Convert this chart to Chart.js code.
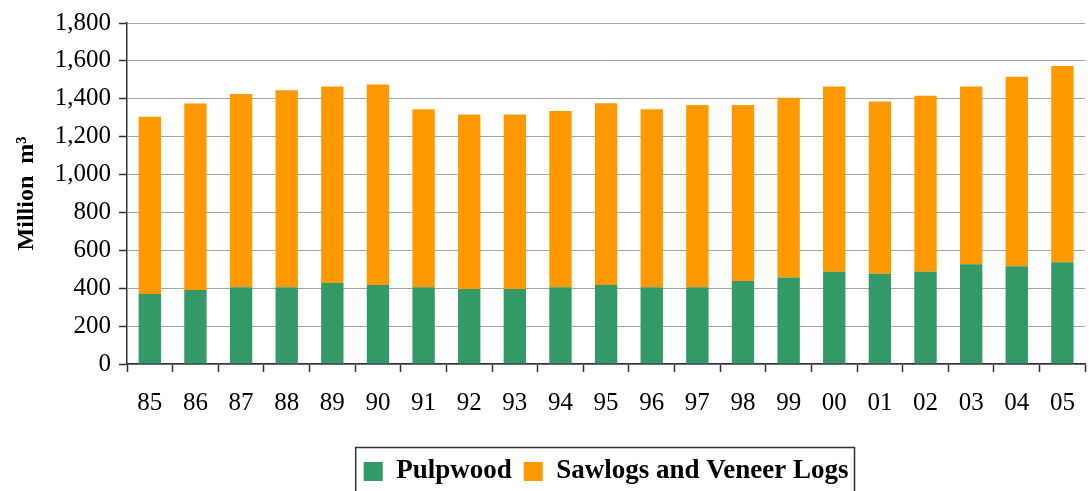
<!DOCTYPE html>
<html><head><meta charset="utf-8">
<script src="https://cdn.jsdelivr.net/npm/chart.js@4.4.1/dist/chart.umd.min.js"></script>
<style>html,body{margin:0;padding:0;background:#fff}#wrap{width:1091px;height:491px;position:relative}</style>
</head><body><div id="wrap"><canvas id="c"></canvas></div>
<script>
const years = ['85','86','87','88','89','90','91','92','93','94','95','96','97','98','99','00','01','02','03','04','05'];
const pulpwood = [370,390,405,405,428,417,405,396,396,405,417,405,405,438,457,487,476,487,527,516,537];
const sawlogs  = [935,985,1020,1040,1037,1058,940,921,921,931,959,940,962,929,949,978,909,929,938,1000,1036];
const seriesNames = ['Pulpwood','Sawlogs and Veneer Logs'];
const yMin = 0, yMax = 1800, yStep = 200;
const yTitle = 'Million  m\u00B3';

const FONT = "'Liberation Serif','Times New Roman',serif";
const GREEN = '#339966', ORANGE = '#FF9900', AXIS = '#333333', GRID = '#a6a6a6';
const PLOT_BOTTOM = 364, PAD_BOTTOM = 0;

const legendBox = {
  id: 'legendBox',
  afterUpdate(chart) {
    const lg = chart.legend, ca = chart.chartArea;
    if (!lg || !ca) return;
    const dx = ((ca.left + ca.right) - (lg.left + lg.right)) / 2;
    const dy = 4;
    lg.left += dx; lg.right += dx; lg.top += dy; lg.bottom += dy;
    (lg.legendHitBoxes || []).forEach(h => { h.left += dx; h.top += dy; });
  },
  afterDraw(chart) {
    const hb = chart.legend && chart.legend.legendHitBoxes;
    if (!hb || !hb.length) return;
    const ctx = chart.ctx;
    const left = hb[0].left - 8;
    const right = hb[hb.length-1].left + hb[hb.length-1].width + 6;
    const cy = hb[0].top + hb[0].height / 2;
    const top = cy - 24;
    const bottom = cy + 24;
    ctx.save();
    ctx.strokeStyle = AXIS; ctx.lineWidth = 1.5;
    ctx.strokeRect(left, top, right-left, bottom-top);
    ctx.restore();
  }
};

new Chart(document.getElementById('c'), {
  type: 'bar',
  data: {
    labels: years,
    datasets: [
      { label: seriesNames[0], data: pulpwood, backgroundColor: GREEN, borderWidth: 0 },
      { label: seriesNames[1], data: sawlogs, backgroundColor: ORANGE, borderWidth: 0 }
    ]
  },
  options: {
    responsive: true, maintainAspectRatio: false, animation: false,
    layout: { padding: { top: 8, right: 4, left: 12, bottom: PAD_BOTTOM } },
    datasets: { bar: { barPercentage: 0.49, categoryPercentage: 1.0 } },
    plugins: {
      tooltip: { enabled: false },
      legend: {
        position: 'bottom',
        labels: {
          color: '#000', font: { family: FONT, size: 27, weight: 'bold' },
          boxWidth: 19, boxHeight: 19, padding: 12
        }
      }
    },
    scales: {
      x: {
        stacked: true,
        afterFit(s) { s.height = s.chart.height - PLOT_BOTTOM - s.chart.legend.height - PAD_BOTTOM; },
        grid: { offset: true, drawOnChartArea: false, drawTicks: true, tickLength: 8, tickColor: AXIS, tickWidth: 1.5 },
        border: { color: AXIS, width: 1.5 },
        ticks: { color: '#000', font: { family: FONT, size: 25 }, padding: 16, maxRotation: 0, autoSkip: false }
      },
      y: {
        stacked: true, min: yMin, max: yMax,
        afterFit(s) { s.width = 115; },
        grid: { color: GRID, lineWidth: 1, drawTicks: true, tickLength: 8, tickColor: AXIS, tickWidth: 1.5 },
        border: { color: AXIS, width: 1.5 },
        ticks: { stepSize: yStep, color: '#000', font: { family: FONT, size: 25 }, padding: 8,
                 callback: v => v.toLocaleString('en-US') },
        title: { display: true, text: yTitle, color: '#000', font: { family: FONT, size: 24, weight: 'bold' }, padding: { top: 0, bottom: 6 } }
      }
    }
  },
  plugins: [legendBox]
});
</script></body></html>
